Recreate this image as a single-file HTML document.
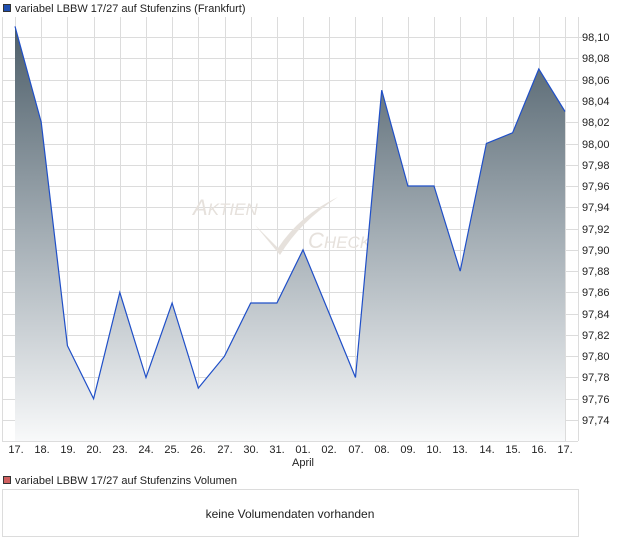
<!DOCTYPE html>
<html><head><meta charset="utf-8"><style>
body{margin:0;background:#fff;width:620px;height:546px;overflow:hidden;font-family:"Liberation Sans",sans-serif;}
</style></head><body>
<svg width="620" height="546" xmlns="http://www.w3.org/2000/svg" font-family="Liberation Sans, sans-serif">
<defs><linearGradient id="g" x1="0" y1="26" x2="0" y2="441" gradientUnits="userSpaceOnUse">
<stop offset="0" stop-color="#4d5e69"/><stop offset="0.5" stop-color="#a3adb4"/><stop offset="1" stop-color="#f8f9fa"/></linearGradient></defs>
<rect x="3.5" y="4.5" width="7" height="7" fill="#1f4fb0" stroke="#333" stroke-width="1"/>
<text x="15" y="12" font-size="11" fill="#222">variabel LBBW 17/27 auf Stufenzins (Frankfurt)</text>
<g stroke="#dcdcdc" stroke-width="1">
<line x1="2" y1="37.5" x2="578" y2="37.5"/><line x1="2" y1="58.5" x2="578" y2="58.5"/><line x1="2" y1="80.5" x2="578" y2="80.5"/><line x1="2" y1="101.5" x2="578" y2="101.5"/><line x1="2" y1="122.5" x2="578" y2="122.5"/><line x1="2" y1="144.5" x2="578" y2="144.5"/><line x1="2" y1="165.5" x2="578" y2="165.5"/><line x1="2" y1="186.5" x2="578" y2="186.5"/><line x1="2" y1="207.5" x2="578" y2="207.5"/><line x1="2" y1="229.5" x2="578" y2="229.5"/><line x1="2" y1="250.5" x2="578" y2="250.5"/><line x1="2" y1="271.5" x2="578" y2="271.5"/><line x1="2" y1="292.5" x2="578" y2="292.5"/><line x1="2" y1="314.5" x2="578" y2="314.5"/><line x1="2" y1="335.5" x2="578" y2="335.5"/><line x1="2" y1="356.5" x2="578" y2="356.5"/><line x1="2" y1="377.5" x2="578" y2="377.5"/><line x1="2" y1="399.5" x2="578" y2="399.5"/><line x1="2" y1="420.5" x2="578" y2="420.5"/>
<line x1="15.5" y1="17" x2="15.5" y2="441"/><line x1="41.5" y1="17" x2="41.5" y2="441"/><line x1="67.5" y1="17" x2="67.5" y2="441"/><line x1="94.5" y1="17" x2="94.5" y2="441"/><line x1="120.5" y1="17" x2="120.5" y2="441"/><line x1="146.5" y1="17" x2="146.5" y2="441"/><line x1="172.5" y1="17" x2="172.5" y2="441"/><line x1="198.5" y1="17" x2="198.5" y2="441"/><line x1="225.5" y1="17" x2="225.5" y2="441"/><line x1="251.5" y1="17" x2="251.5" y2="441"/><line x1="277.5" y1="17" x2="277.5" y2="441"/><line x1="303.5" y1="17" x2="303.5" y2="441"/><line x1="329.5" y1="17" x2="329.5" y2="441"/><line x1="355.5" y1="17" x2="355.5" y2="441"/><line x1="382.5" y1="17" x2="382.5" y2="441"/><line x1="408.5" y1="17" x2="408.5" y2="441"/><line x1="434.5" y1="17" x2="434.5" y2="441"/><line x1="460.5" y1="17" x2="460.5" y2="441"/><line x1="486.5" y1="17" x2="486.5" y2="441"/><line x1="513.5" y1="17" x2="513.5" y2="441"/><line x1="539.5" y1="17" x2="539.5" y2="441"/><line x1="565.5" y1="17" x2="565.5" y2="441"/>
<line x1="2.5" y1="17" x2="2.5" y2="441"/><line x1="578.5" y1="17" x2="578.5" y2="441"/><line x1="2" y1="441.5" x2="578" y2="441.5"/>
</g>
<g fill="#e6e1dc" font-style="italic"><text x="193" y="215" font-size="22">A<tspan font-size="17">KTIEN</tspan></text><text x="308" y="248" font-size="22">C<tspan font-size="17">HECK</tspan></text></g>
<path d="M255 225 L278 248 Q300 215 338 197 Q300 222 280 255 Z" fill="#e6e1dc"/>
<polygon fill="url(#g)" points="15,441 15,26.4 41.2,122.1 67.4,345.6 93.6,398.8 119.8,292.4 146,377.5 172.1,303 198.3,388.1 224.5,356.2 250.7,303 276.9,303 303,249.8 329.3,313.6 355.5,377.5 381.7,90.2 407.9,186 434,186 460.2,271.1 486.4,143.4 512.6,132.8 538.8,68.9 565,111.5 565,441"/>
<polyline fill="none" stroke="#1f4fc8" stroke-width="1.2" points="15,26.4 41.2,122.1 67.4,345.6 93.6,398.8 119.8,292.4 146,377.5 172.1,303 198.3,388.1 224.5,356.2 250.7,303 276.9,303 303,249.8 329.3,313.6 355.5,377.5 381.7,90.2 407.9,186 434,186 460.2,271.1 486.4,143.4 512.6,132.8 538.8,68.9 565,111.5"/>
<g stroke="#dcdcdc"><line x1="578" y1="37.5" x2="588" y2="37.5"/></g>
<g font-size="11" fill="#222">
<text x="582" y="41">98,10</text><text x="582" y="62">98,08</text><text x="582" y="84">98,06</text><text x="582" y="105">98,04</text><text x="582" y="126">98,02</text><text x="582" y="148">98,00</text><text x="582" y="169">97,98</text><text x="582" y="190">97,96</text><text x="582" y="211">97,94</text><text x="582" y="233">97,92</text><text x="582" y="254">97,90</text><text x="582" y="275">97,88</text><text x="582" y="296">97,86</text><text x="582" y="318">97,84</text><text x="582" y="339">97,82</text><text x="582" y="360">97,80</text><text x="582" y="381">97,78</text><text x="582" y="403">97,76</text><text x="582" y="424">97,74</text>
</g>
<g font-size="11" fill="#222" text-anchor="middle">
<text x="16" y="453">17.</text><text x="42" y="453">18.</text><text x="68" y="453">19.</text><text x="94" y="453">20.</text><text x="120" y="453">23.</text><text x="146" y="453">24.</text><text x="172" y="453">25.</text><text x="198" y="453">26.</text><text x="225" y="453">27.</text><text x="251" y="453">30.</text><text x="277" y="453">31.</text><text x="303" y="453">01.</text><text x="329" y="453">02.</text><text x="356" y="453">07.</text><text x="382" y="453">08.</text><text x="408" y="453">09.</text><text x="434" y="453">10.</text><text x="460" y="453">13.</text><text x="487" y="453">14.</text><text x="513" y="453">15.</text><text x="539" y="453">16.</text><text x="565" y="453">17.</text>
<text x="303" y="466">April</text>
</g>
<rect x="3.5" y="476.5" width="7" height="7" fill="#d06060" stroke="#333" stroke-width="1"/>
<text x="15" y="484" font-size="11" fill="#222">variabel LBBW 17/27 auf Stufenzins Volumen</text>
<rect x="2.5" y="489.5" width="576" height="47" fill="#fff" stroke="#dcdcdc"/>
<text x="290" y="518" font-size="12" fill="#222" text-anchor="middle">keine Volumendaten vorhanden</text>
</svg>
</body></html>
